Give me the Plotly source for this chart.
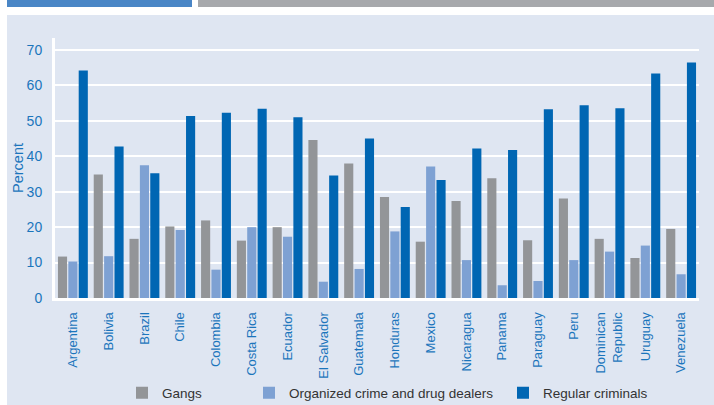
import plotly.graph_objects as go

countries = ["Argentina", "Bolivia", "Brazil", "Chile", "Colombia", "Costa Rica", "Ecuador",
             "El Salvador", "Guatemala", "Honduras", "Mexico", "Nicaragua", "Panama", "Paraguay",
             "Peru", "Dominican<br>Republic", "Uruguay", "Venezuela"]
gangs = [11.7, 34.9, 16.7, 20.2, 21.9, 16.2, 20.0, 44.6, 38.0, 28.5, 15.9, 27.4, 33.8, 16.3,
         28.1, 16.7, 11.3, 19.5]
organized = [10.3, 11.8, 37.5, 19.2, 8.0, 20.0, 17.3, 4.6, 8.2, 18.8, 37.1, 10.7, 3.6, 4.8,
             10.7, 13.1, 14.8, 6.7]
regular = [64.2, 42.8, 35.2, 51.4, 52.3, 53.4, 51.0, 34.6, 45.0, 25.7, 33.3, 42.2, 41.8, 53.3,
           54.4, 53.6, 63.4, 66.5]
series_names = ["Gangs", "Organized crime and drug dealers", "Regular criminals"]
colors = ["#939598", "#7ea1d3", "#0066b3"]

FONT = "Liberation Sans Narrow, Liberation Sans, Arial, sans-serif"
BLUE_TXT = "#1b75bc"
PANEL = "#dfe6f2"

W, H = 714, 405
L, R, T, B = 55, 15, 38, 107
pw, ph = W - L - R, H - T - B

def px(x):
    return (x - L) / pw

def py(y):
    return 1 - (y - T) / ph

legend_ids = ["legend", "legend2", "legend3"]
legend_x = [122, 249, 503]

fig = go.Figure()
for name, vals, col, lid in zip(series_names, [gangs, organized, regular], colors, legend_ids):
    fig.add_trace(go.Bar(x=countries, y=vals, name=name, marker_color=col,
                         marker_line_width=0, legend=lid))

shapes = [
    dict(type="rect", xref="paper", yref="paper", x0=px(7), x1=px(716), y0=py(407), y1=py(15),
         fillcolor=PANEL, line_width=0, layer="below"),
    dict(type="rect", xref="paper", yref="paper", x0=px(7), x1=px(192), y0=py(7), y1=py(-2),
         fillcolor="#4a86c6", line_width=0, layer="below"),
    dict(type="rect", xref="paper", yref="paper", x0=px(198), x1=px(716), y0=py(7), y1=py(-2),
         fillcolor="#a7a9ac", line_width=0, layer="below"),
]

legend_common = dict(orientation="h", yanchor="middle", xanchor="left", bgcolor="rgba(0,0,0,0)",
                     font=dict(family=FONT, size=13.5, color="#333333"), itemwidth=30)

fig.update_layout(
    width=W, height=H,
    margin=dict(l=L, r=R, t=T, b=B, autoexpand=False),
    paper_bgcolor="white", plot_bgcolor=PANEL,
    barmode="group", bargap=0.13, bargroupgap=0.12,
    font=dict(family=FONT, size=13, color=BLUE_TXT),
    shapes=shapes,
    showlegend=True,
    legend=dict(x=px(legend_x[0]), y=py(393), **legend_common),
    legend2=dict(x=px(legend_x[1]), y=py(393), **legend_common),
    legend3=dict(x=px(legend_x[2]), y=py(393), **legend_common),
    xaxis=dict(tickangle=-90, showgrid=False, showline=True, linecolor="white", linewidth=3,
               tickfont=dict(family=FONT, size=13, color=BLUE_TXT), ticks="", ticklabelstandoff=6,
               automargin=False),
    yaxis=dict(range=[0, 73.4], tickvals=[0, 10, 20, 30, 40, 50, 60, 70], showgrid=True,
               gridcolor="white", gridwidth=2, showline=True, linecolor="white", linewidth=3,
               zeroline=False, ticks="", ticklabelstandoff=7,
               tickfont=dict(family=FONT, size=14, color=BLUE_TXT),
               title=dict(text="Percent", standoff=0, font=dict(family=FONT, size=14.5, color=BLUE_TXT)),
               automargin=False),
)

fig.write_html("out.html", post_script="document.body.style.margin='0';",
               config={"displayModeBar": False})
